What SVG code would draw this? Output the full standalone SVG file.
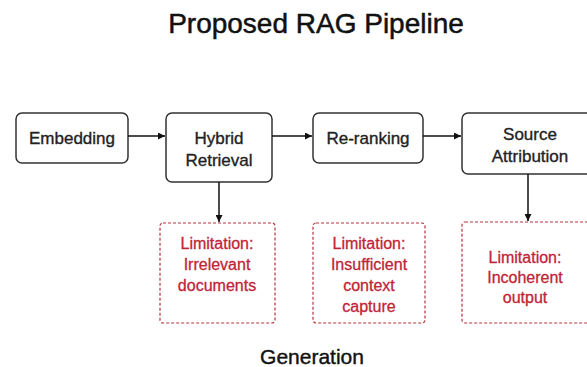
<svg xmlns="http://www.w3.org/2000/svg" width="587" height="367" viewBox="0 0 587 367">
  <defs>
    <marker id="arrow" viewBox="0 0 10 10" refX="10" refY="5" markerWidth="7" markerHeight="7" markerUnits="userSpaceOnUse" orient="auto">
      <path d="M0,0 L10,5 L0,10 z" fill="#111"/>
    </marker>
    <style>
      text { font-family: "Liberation Sans", Arial, Helvetica, sans-serif; text-anchor: middle; stroke-linejoin: round; }
      .title { font-size: 28px; fill: #111; stroke: #111; stroke-width: 0.5; }
      .step rect { fill: #fff; stroke: #333; stroke-width: 1.5; }
      .step text { font-size: 17px; fill: #222; stroke: #222; stroke-width: 0.35; }
      .limit rect { fill: #fff; stroke: #b3343f; stroke-width: 1.2; stroke-dasharray: 3 2; }
      .limit text { font-size: 16px; fill: #bf2438; stroke: #bf2438; stroke-width: 0.3; }
      .footer { font-size: 21px; fill: #111; stroke: #111; stroke-width: 0.4; }
      .edge { stroke: #111; stroke-width: 1.5; fill: none; marker-end: url(#arrow); }
    </style>
  </defs>

  <rect width="587" height="367" fill="#fff"/>

  <text class="title" x="316" y="33">Proposed RAG Pipeline</text>

  <g id="embedding" class="step">
    <rect x="16" y="113" width="112" height="50" rx="6"/>
    <text x="72" y="144">Embedding</text>
  </g>
  <g id="hybrid-retrieval" class="step">
    <rect x="166" y="113" width="106" height="69" rx="6"/>
    <text x="219" y="144">Hybrid</text>
    <text x="219" y="166">Retrieval</text>
  </g>
  <g id="re-ranking" class="step">
    <rect x="313" y="113" width="110" height="50" rx="6"/>
    <text x="368" y="144">Re-ranking</text>
  </g>
  <g id="source-attribution" class="step">
    <rect x="462" y="113" width="138" height="61" rx="6"/>
    <text x="530" y="140">Source</text>
    <text x="530" y="162">Attribution</text>
  </g>

  <g id="limit-irrelevant" class="limit">
    <rect x="160" y="223" width="115" height="100" rx="3"/>
    <text x="217" y="249">Limitation:</text>
    <text x="217" y="270">Irrelevant</text>
    <text x="217" y="291">documents</text>
  </g>
  <g id="limit-insufficient" class="limit">
    <rect x="313" y="223" width="112" height="100" rx="3"/>
    <text x="369" y="249">Limitation:</text>
    <text x="369" y="270">Insufficient</text>
    <text x="369" y="291">context</text>
    <text x="369" y="312">capture</text>
  </g>
  <g id="limit-incoherent" class="limit">
    <rect x="462" y="222" width="130" height="101" rx="3"/>
    <text x="525" y="263">Limitation:</text>
    <text x="525" y="283">Incoherent</text>
    <text x="525" y="303">output</text>
  </g>

  <g id="connectors">
    <line class="edge" x1="128" y1="136" x2="165" y2="136"/>
    <line class="edge" x1="272" y1="136" x2="312" y2="136"/>
    <line class="edge" x1="423" y1="136" x2="461" y2="136"/>
    <line class="edge" x1="219" y1="182" x2="219" y2="222"/>
    <line class="edge" x1="528" y1="174" x2="528" y2="221"/>
  </g>

  <text class="footer" x="312" y="364">Generation</text>
</svg>
